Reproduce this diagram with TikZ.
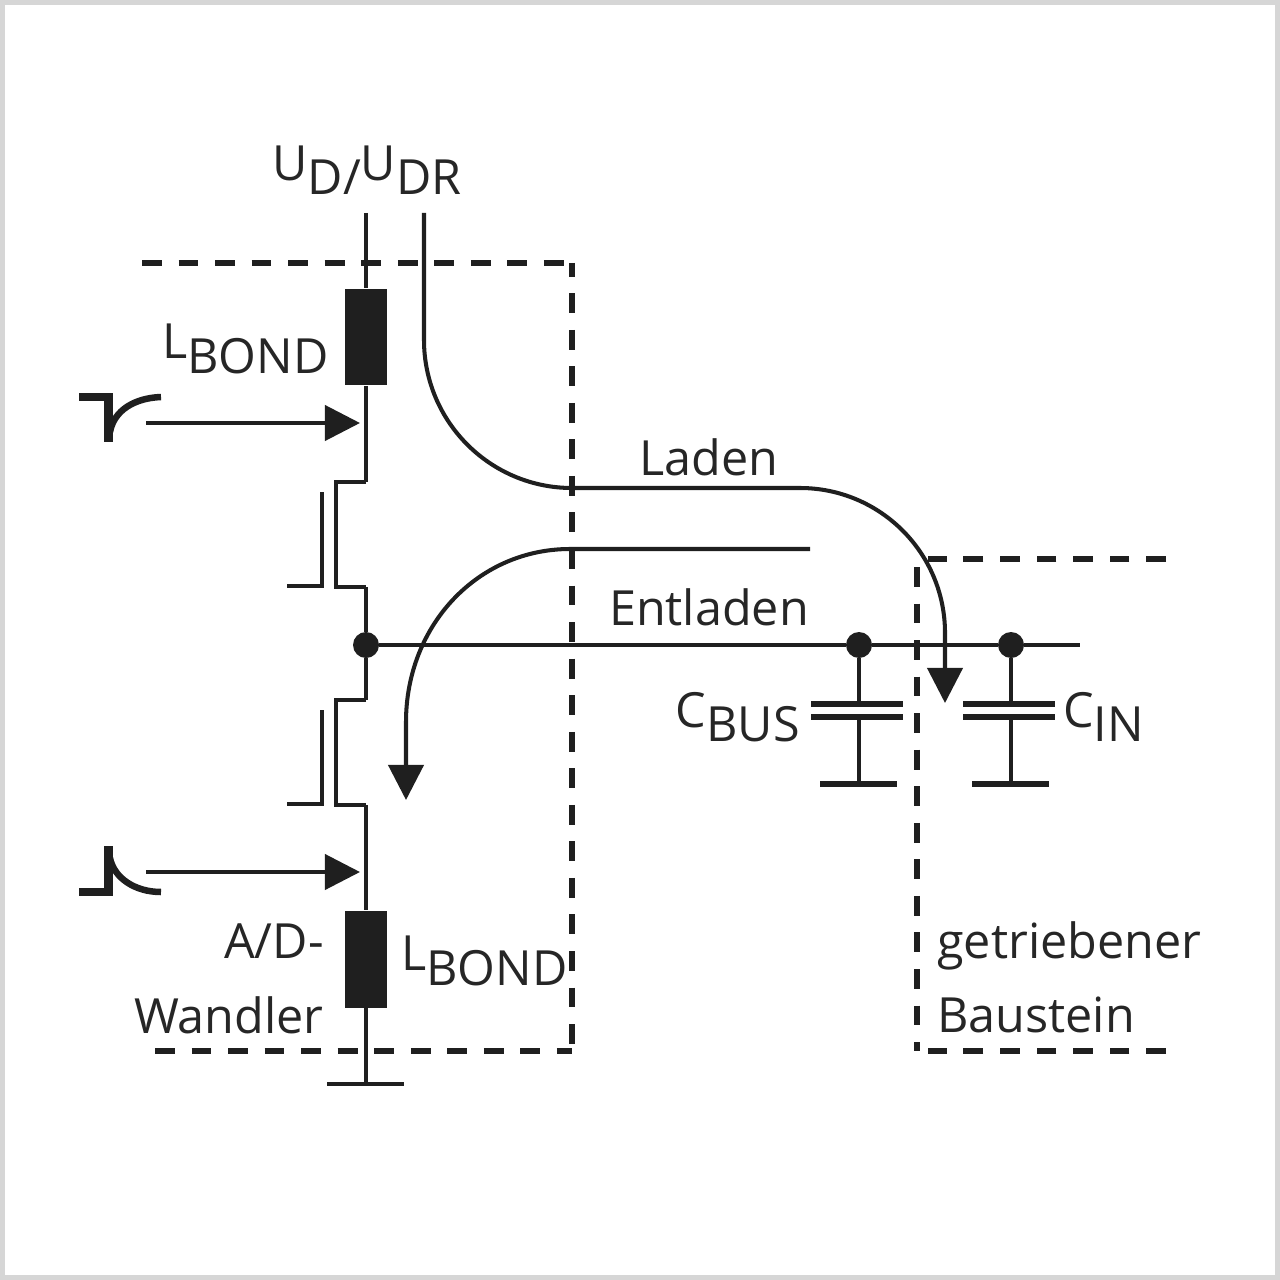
\documentclass[tikz,border=0pt]{standalone}
\usepackage{fontspec}
\setmainfont{Open Sans}
\usetikzlibrary{arrows.meta,calc}
\newcommand{\lowtxt}[1]{\raisebox{-0.3em}{#1}}

\begin{document}
\begin{tikzpicture}[x=0.02cm, y=-0.02cm, >={Triangle[length=20pt,width=20pt]},
  wire/.style={line width=2.3pt, draw=black!88},
  gate/.style={line width=2.7pt, draw=black!88},
  fence/.style={line width=3.3pt, draw=black!88, dash pattern=on 11.3pt off 9.5pt},
  pulse/.style={line width=3.7pt, draw=black!88},
  step edge/.style={line width=4.6pt, draw=black!88},
  coil/.style={draw=none, fill=black!88, minimum width=0.84cm, minimum height=1.94cm, inner sep=0pt},
  dot/.style={circle, fill=black!88, minimum size=0.52cm, inner sep=0pt},
  lbl/.style={text=black!85, font=\fontsize{27.6}{32}\selectfont, inner sep=0pt}]

\path [use as bounding box] (0,0) rectangle (1280,1280);
\draw [line width=2.8pt, draw=black!16] (2.5,2.5) rectangle (1277.5,1277.5);

% labels
\node [lbl] at (367, 170) (UD) {U\lowtxt{D/}U\lowtxt{DR}};
\node [lbl, anchor=east] at (329, 349) (LBONDA) {L\lowtxt{BOND}};
\node [lbl, anchor=west] at (401, 961) (LBONDB) {L\lowtxt{BOND}};
\node [lbl] at (709, 457) (LADEN) {Laden};
\node [lbl] at (709, 607) (ENTLADEN) {Entladen};
\node [lbl, anchor=east] at (800, 717) (CBUSTXT) {C\lowtxt{BUS}};
\node [lbl, anchor=west] at (1063, 717) (CINTXT) {C\lowtxt{IN}};
\node [lbl, anchor=east] at (324, 941) (AD) {A/D-};
\node [lbl, anchor=east] at (324, 1015) (WANDLER) {Wandler};
\node [lbl, anchor=west] at (937, 946) (GETR) {getriebener};
\node [lbl, anchor=west] at (937, 1015) (BAUSTEIN) {Baustein};

% main rail
\coordinate (TOP) at (366, 213);
\node [coil] at (366, 337) (LA) {};
\node [coil] at (366, 959) (LB) {};
\node [dot] at (366, 645) (MID) {};
\coordinate (GNDA) at (366, 1084);
\coordinate (HIT) at (366, 423);
\coordinate (HITB) at (366, 872);

\draw [wire] (TOP) -- (LA);
\draw [wire] (LA) -- (HIT) -- (366, 482);
\draw [gate] (366, 482) -- (336, 482) -- (336, 587) -- (366, 587);
\draw [wire] (366, 587) -- (MID) -- (366, 700);
\draw [gate] (366, 700) -- (336, 700) -- (336, 805) -- (366, 805);
\draw [wire] (366, 805) -- (HITB) -- (LB);
\draw [wire] (LB) -- (GNDA);
\draw [gate] ($(GNDA)-(39,0)$) -- ($(GNDA)+(38,0)$);

% gates
\draw [gate] (322, 492) -- (322, 586) -- (287, 586);
\draw [gate] (322, 710) -- (322, 804) -- (287, 804);

% drive signals
\coordinate (SIGA) at (146, 423);
\coordinate (SIGB) at (146, 872);
\draw [->, wire] (SIGA) -- ($(HIT)-(6,0)$);
\draw [->, wire] (SIGB) -- ($(HITB)-(6,0)$);
\draw [step edge] (79, 397) -- (108.5, 397) -- (108.5, 442);
\draw [pulse] (110, 432) .. controls (114, 410) and (135, 398) .. (161, 397);
\draw [step edge] (79, 892) -- (108.5, 892) -- (108.5, 846);
\draw [pulse] (110, 858) .. controls (114, 878) and (135, 892) .. (161, 892);

% bus
\node [dot] at (859, 645) (BUSA) {};
\node [dot] at (1011, 645) (BUSB) {};
\coordinate (BUSEND) at (1080, 645);
\draw [wire] (MID) -- (BUSA) -- (BUSB) -- (BUSEND);

% capacitors
\foreach \nm/\xx in {BUSA/859, BUSB/1011} {
  \draw [wire] (\nm) -- (\xx, 704);
  \draw [pulse] (\xx-48, 704) -- (\xx+44, 704);
  \draw [pulse] (\xx-48, 717) -- (\xx+44, 717);
  \draw [wire] (\xx, 717) -- (\xx, 784);
  \draw [pulse] (\xx-39, 784) -- (\xx+38, 784);
}

% current paths
\coordinate (LADENA) at (424, 213);
\coordinate (LADENB) at (945, 703);
\coordinate (ENTA) at (810, 549);
\coordinate (ENTB) at (406, 800);
\draw [->, wire] (LADENA) -- (424, 340) arc (180:90:148) -- (800, 488) arc (270:360:145) -- (LADENB);
\draw [->, wire] (ENTA) -- (570, 549) .. controls (478, 549) and (406, 625) .. (406, 722) -- (ENTB);

% block borders
\draw [fence] (142, 263) -- (572, 263);
\draw [fence, dash phase=3.6pt] (572, 263) -- (572, 1051);
\draw [fence] (155, 1051) -- (572, 1051);
\draw [fence] (1166, 559) -- (928, 559);
\draw [fence] (917, 567) -- (917, 1051);
\draw [fence] (1166, 1051) -- (928, 1051);

\end{tikzpicture}
\end{document}
